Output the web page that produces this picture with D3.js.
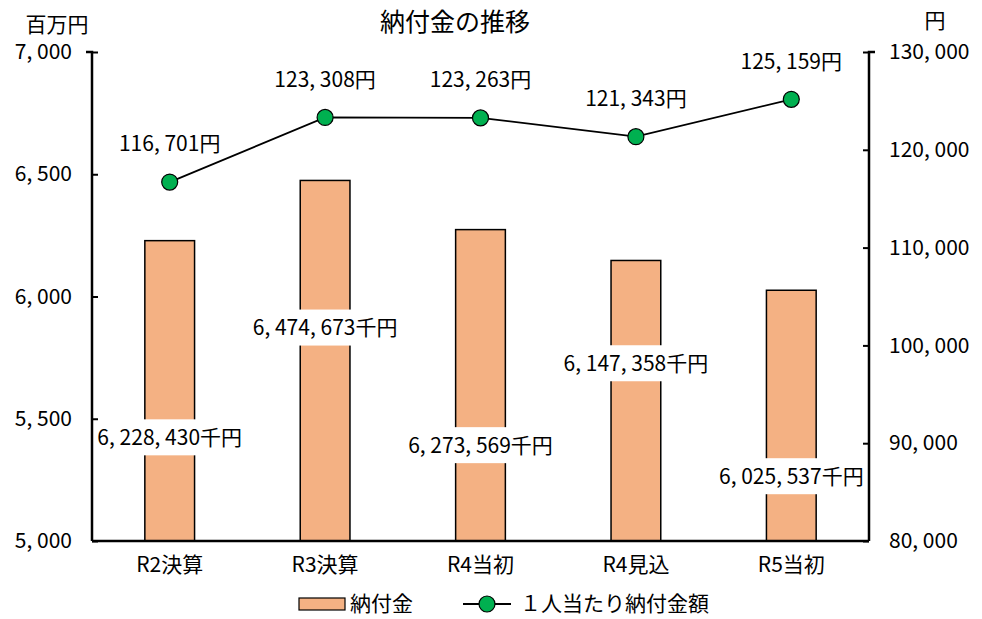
<!DOCTYPE html>
<html>
<head>
<meta charset="utf-8">
<script src="https://cdn.jsdelivr.net/npm/d3@7"></script>
<style>
  body { margin: 0; background: #fff; }
  svg text { font-family: "Liberation Sans Narrow", "Noto Sans CJK JP", sans-serif; fill: #000; }
</style>
</head>
<body>
<svg id="chart" width="982" height="619"></svg>
<script>
// data
var categories = ['R2決算', 'R3決算', 'R4当初', 'R4見込', 'R5当初'];
var payments = [6228430, 6474673, 6273569, 6147358, 6025537];      // 千円
var perPerson = [116701, 123308, 123263, 121343, 125159];          // 円
var paymentLabelAt = [5424, 5873, 5392, 5727, 5265];               // 百万円, where the bar label sits
var leftTicks = [5000, 5500, 6000, 6500, 7000];
var rightTicks = [80000, 90000, 100000, 110000, 120000, 130000];

var margin = { left: 92, right: 113, top: 52, bottom: 78 };
var width = 982, height = 619;

var svg = d3.select('#chart');

var x = d3.scaleBand()
    .domain(categories)
    .range([margin.left, width - margin.right])
    .paddingInner(0.68)
    .paddingOuter(0.34);

var yLeft = d3.scaleLinear().domain([5000, 7000]).range([height - margin.bottom, margin.top]);
var yRight = d3.scaleLinear().domain([80000, 130000]).range([height - margin.bottom, margin.top]);

var fmt = d3.format(',');
function commaText(n) { return fmt(n).replace(/,/g, ', '); }

// bars
svg.append('g').selectAll('rect')
    .data(payments)
    .enter().append('rect')
    .attr('x', function (d, i) { return x(categories[i]); })
    .attr('width', x.bandwidth())
    .attr('y', function (d) { return yLeft(d / 1000); })
    .attr('height', function (d) { return yLeft(5000) - yLeft(d / 1000); })
    .attr('fill', '#F4B183')
    .attr('stroke', '#000')
    .attr('stroke-width', 1.5);

// bar labels with white boxes
var barLabels = svg.append('g').selectAll('g')
    .data(payments)
    .enter().append('g')
    .attr('transform', function (d, i) {
        return 'translate(' + (x(categories[i]) + x.bandwidth() / 2) + ',' + yLeft(paymentLabelAt[i]) + ')';
    });

barLabels.append('text')
    .attr('text-anchor', 'middle')
    .attr('dy', '0.35em')
    .attr('font-size', 21)
    .text(function (d) { return commaText(d) + '千円'; })
    .each(function () {
        var b = this.getBBox();
        d3.select(this.parentNode).insert('rect', 'text')
            .attr('x', b.x - 4)
            .attr('width', b.width + 8)
            .attr('y', -18)
            .attr('height', 36)
            .attr('fill', '#fff');
    });

// line
var cx = function (d, i) { return x(categories[i]) + x.bandwidth() / 2; };
var line = d3.line().x(cx).y(function (d) { return yRight(d); });

svg.append('path')
    .datum(perPerson)
    .attr('d', line)
    .attr('fill', 'none')
    .attr('stroke', '#000')
    .attr('stroke-width', 1.8);

svg.append('g').selectAll('circle')
    .data(perPerson)
    .enter().append('circle')
    .attr('cx', cx)
    .attr('cy', function (d) { return yRight(d); })
    .attr('r', 8)
    .attr('fill', '#00B050')
    .attr('stroke', '#000')
    .attr('stroke-width', 1.2);

svg.append('g').selectAll('text')
    .data(perPerson)
    .enter().append('text')
    .attr('x', cx)
    .attr('y', function (d) { return yRight(d) - 38; })
    .attr('dy', '0.35em')
    .attr('text-anchor', 'middle')
    .attr('font-size', 21)
    .text(function (d) { return commaText(d) + '円'; });

// axes
var leftAxis = svg.append('g')
    .attr('transform', 'translate(' + margin.left + ',0)')
    .call(d3.axisLeft(yLeft).tickValues(leftTicks).tickSize(-6).tickFormat(commaText).tickPadding(20));

var rightAxis = svg.append('g')
    .attr('transform', 'translate(' + (width - margin.right) + ',0)')
    .call(d3.axisRight(yRight).tickValues(rightTicks).tickSize(-6).tickFormat(commaText).tickPadding(20));

var bottomAxis = svg.append('g')
    .attr('transform', 'translate(0,' + (height - margin.bottom) + ')')
    .call(d3.axisBottom(x).tickSize(0).tickPadding(16));

[leftAxis, rightAxis, bottomAxis].forEach(function (a) {
    a.selectAll('path').attr('stroke', '#000').attr('stroke-width', 2.5);
    a.selectAll('line').attr('stroke', '#000').attr('stroke-width', 2);
    a.selectAll('text').attr('font-size', 21).attr('font-family', null).attr('fill', '#000');
});
bottomAxis.select('path').attr('d', 'M' + margin.left + ',0H' + (width - margin.right));
leftAxis.select('path').attr('d', 'M-6,' + margin.top + 'H0V' + (height - margin.bottom));
rightAxis.select('path').attr('d', 'M6,' + margin.top + 'H0V' + (height - margin.bottom));

// titles
svg.append('text').attr('x', 455).attr('y', 22).attr('dy', '0.35em')
    .attr('text-anchor', 'middle').attr('font-size', 25).text('納付金の推移');
svg.append('text').attr('x', 57).attr('y', 25).attr('dy', '0.35em')
    .attr('text-anchor', 'middle').attr('font-size', 21).text('百万円');
svg.append('text').attr('x', 935).attr('y', 21).attr('dy', '0.35em')
    .attr('text-anchor', 'middle').attr('font-size', 21).text('円');

// legend
var legend = svg.append('g').attr('transform', 'translate(0,604)');
legend.append('rect').attr('x', 299).attr('y', -6).attr('width', 46).attr('height', 12)
    .attr('fill', '#F4B183').attr('stroke', '#000').attr('stroke-width', 1.2);
legend.append('text').attr('x', 350).attr('dy', '0.35em').attr('font-size', 21).text('納付金');
legend.append('line').attr('x1', 463).attr('x2', 511).attr('stroke', '#000').attr('stroke-width', 1.8);
legend.append('circle').attr('cx', 487).attr('r', 8).attr('fill', '#00B050')
    .attr('stroke', '#000').attr('stroke-width', 1.2);
legend.append('text').attr('x', 520).attr('dy', '0.35em').attr('font-size', 21).text('１人当たり納付金額');
</script>
</body>
</html>
